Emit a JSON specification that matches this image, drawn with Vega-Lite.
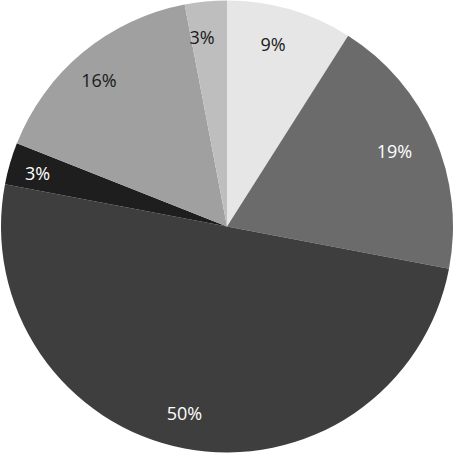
{
  "$schema": "https://vega.github.io/schema/vega-lite/v6.json",
  "autosize": {"type": "fit", "contains": "padding"},
  "width": 454,
  "height": 453,
  "padding": 0,
  "background": "white",
  "view": {"stroke": null},
  "data": {
    "values": [
      {"slice": "A", "pct": 9, "label": "9%", "order": 1, "ink": "dark"},
      {"slice": "B", "pct": 19, "label": "19%", "order": 2, "ink": "light"},
      {"slice": "C", "pct": 50, "label": "50%", "order": 3, "ink": "light"},
      {"slice": "D", "pct": 3, "label": "3%", "order": 4, "ink": "light"},
      {"slice": "E", "pct": 16, "label": "16%", "order": 5, "ink": "dark"},
      {"slice": "F", "pct": 3, "label": "3%", "order": 6, "ink": "dark"}
    ]
  },
  "encoding": {
    "theta": {"field": "pct", "type": "quantitative", "stack": true},
    "order": {"field": "order", "type": "quantitative", "sort": "ascending"}
  },
  "layer": [
    {
      "mark": {"type": "arc", "outerRadius": 226},
      "encoding": {
        "color": {
          "field": "slice",
          "type": "nominal",
          "legend": null,
          "scale": {
            "domain": ["A", "B", "C", "D", "E", "F"],
            "range": ["#e6e6e6", "#6b6b6b", "#3e3e3e", "#1e1e1e", "#a0a0a0", "#bebebe"]
          }
        }
      }
    },
    {
      "mark": {"type": "text", "radius": 190, "dx": -7, "dy": 2, "font": "Open Sans", "fontSize": 18},
      "encoding": {
        "text": {"field": "label"},
        "detail": {"field": "slice", "type": "nominal"},
        "color": {
          "field": "ink",
          "type": "nominal",
          "legend": null,
          "scale": {"domain": ["dark", "light"], "range": ["#1a1a1a", "#ffffff"]}
        }
      }
    }
  ],
  "resolve": {"scale": {"color": "independent"}}
}
